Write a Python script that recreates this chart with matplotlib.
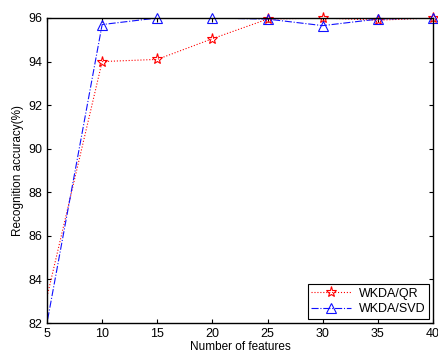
import matplotlib
matplotlib.use("Agg")
import matplotlib.pyplot as plt
from matplotlib.lines import Line2D

plt.rcParams['font.family'] = ['Liberation Sans', 'DejaVu Sans']

# number of features (first point lies left of the visible range)
features = [0, 10, 15, 20, 25, 30, 35, 40]
acc_qr = [72.4, 94.0, 94.1, 95.05, 95.95, 96.0, 95.9, 96.0]
acc_svd = [68.3, 95.7, 96.0, 96.0, 95.95, 95.65, 95.95, 96.0]

xticks = [5, 10, 15, 20, 25, 30, 35, 40]
yticks = [82, 84, 86, 88, 90, 92, 94, 96]

fig = plt.figure(figsize=(4.38, 3.53), dpi=100)
ax = fig.add_axes([47/438, 30/353, 386/438, 305/353])

qr_style = dict(color='red', linestyle=':', linewidth=0.8)
svd_style = dict(color='#1010ff', linestyle='-.', linewidth=0.8)
qr_mark = dict(marker='*', markersize=8, markerfacecolor='none',
               markeredgewidth=0.8, markeredgecolor='red')
svd_mark = dict(marker='^', markersize=7, markerfacecolor='none',
                markeredgewidth=0.8, markeredgecolor='#1010ff')

# lines (clipped to the axes)
ax.plot(features, acc_qr, **qr_style)
ax.plot(features, acc_svd, **svd_style)
# markers on visible points, not clipped at the frame
ax.plot(features[1:], acc_qr[1:], linestyle='none', clip_on=False, **qr_mark)
ax.plot(features[1:], acc_svd[1:], linestyle='none', clip_on=False, **svd_mark)

ax.set_xlim(5, 40)
ax.set_ylim(82, 96)
ax.set_xticks(xticks)
ax.set_yticks(yticks)
ax.tick_params(direction='in', top=True, right=True, labelsize=9, length=3, width=0.8)
for s in ax.spines.values():
    s.set_linewidth(1.0)

ax.set_xlabel('Number of features', fontsize=8.5, labelpad=1)
ax.set_ylabel('Recognition accuracy(%)', fontsize=8.5, labelpad=3)

handles = [Line2D([], [], **qr_style, **qr_mark),
           Line2D([], [], **svd_style, **svd_mark)]
leg = ax.legend(handles, ['WKDA/QR', 'WKDA/SVD'], loc='lower right', fontsize=9,
                fancybox=False, edgecolor='black', framealpha=1, borderaxespad=0.3,
                handlelength=3.2, borderpad=0.3, labelspacing=0.3, handletextpad=0.6)
leg.get_frame().set_linewidth(0.8)

fig.savefig('out.png', dpi=100)
